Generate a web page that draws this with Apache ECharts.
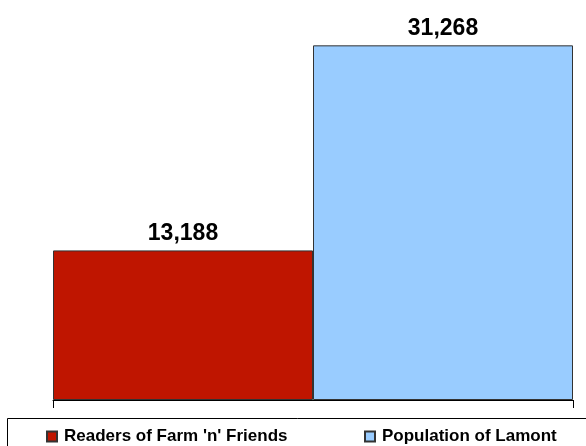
<!DOCTYPE html>
<html>
<head>
<meta charset="utf-8">
<script src="https://cdn.jsdelivr.net/npm/echarts@6/dist/echarts.min.js"></script>
<style>
  html, body { margin: 0; padding: 0; background: #fff; }
  #main { width: 586px; height: 446px; }
</style>
</head>
<body>
<div id="main"></div>
<script>
// data
var categories = [''];
var seriesNames = ["Readers of Farm 'n' Friends", 'Population of Lamont'];
var readersValues = [13188];
var populationValues = [31268];

var font = '"Liberation Sans", Arial, sans-serif';

var chart = echarts.init(document.getElementById('main'));

function labelStyle() {
  return {
    show: true,
    position: 'top',
    distance: 5,
    fontFamily: font,
    fontWeight: 'bold',
    fontSize: 23,
    color: '#000',
    formatter: function (p) {
      return p.value.toLocaleString('en-US');
    }
  };
}

function legendAt(name, left) {
  return {
    data: [name],
    left: left,
    top: 428,
    padding: 0,
    itemWidth: 10,
    itemHeight: 10,
    icon: 'rect',
    textStyle: {
      fontFamily: font, fontWeight: 'bold', fontSize: 17, color: '#000',
      lineHeight: 17, padding: [0, 0, 0, 2]
    }
  };
}

chart.setOption({
  animation: false,
  grid: {
    left: 53,
    right: 13,
    top: 3,
    bottom: 46
  },
  xAxis: {
    type: 'category',
    data: categories,
    axisLine: { lineStyle: { color: '#000', width: 1 } },
    axisTick: { show: true, length: 8, lineStyle: { color: '#000' } },
    axisLabel: { show: false }
  },
  yAxis: {
    type: 'value',
    min: 0,
    max: 35000,
    show: false,
    splitLine: { show: false }
  },
  legend: [
    legendAt(seriesNames[0], 46),
    legendAt(seriesNames[1], 364)
  ],
  graphic: [
    {
      type: 'rect',
      silent: true,
      shape: { x: 7.5, y: 418.5, width: 600, height: 60 },
      style: { fill: 'none', stroke: '#000', lineWidth: 1 }
    }
  ],
  series: [
    {
      name: seriesNames[0],
      type: 'bar',
      data: readersValues,
      barGap: '0%',
      barCategoryGap: '0%',
      itemStyle: { color: '#BF1500', borderColor: '#333', borderWidth: 1 },
      label: labelStyle()
    },
    {
      name: seriesNames[1],
      type: 'bar',
      data: populationValues,
      barGap: '0%',
      barCategoryGap: '0%',
      itemStyle: { color: '#99CCFF', borderColor: '#333', borderWidth: 1 },
      label: labelStyle()
    }
  ]
});
</script>
</body>
</html>
